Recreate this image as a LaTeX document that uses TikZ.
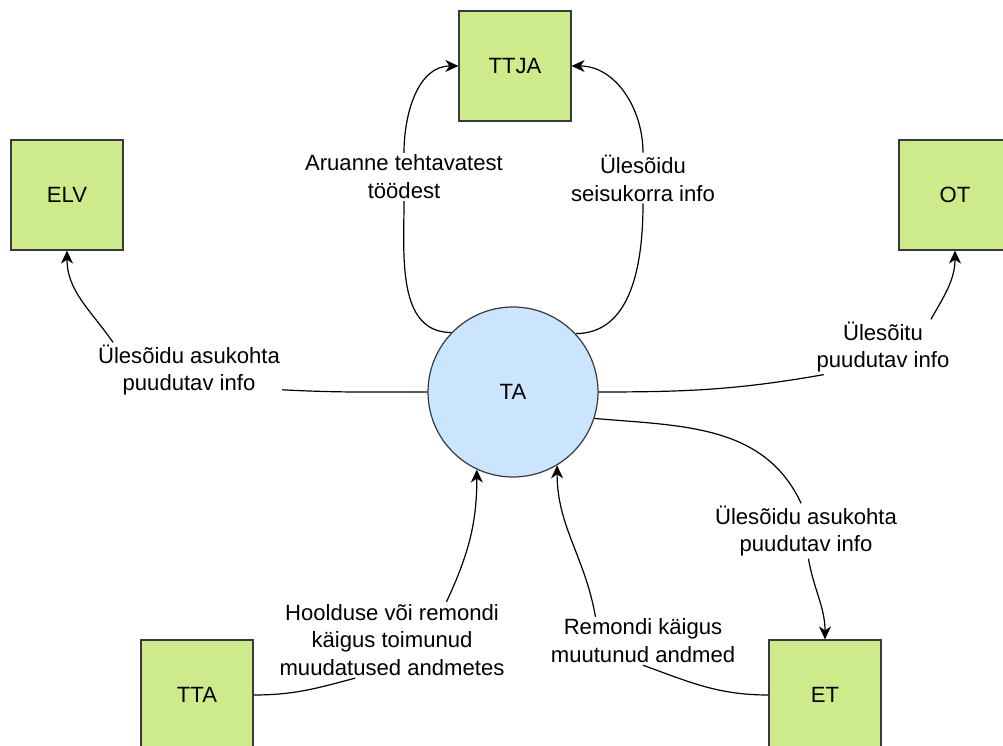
\documentclass[tikz,border=0pt]{standalone}
\usepackage{fontspec}
\setmainfont{Liberation Sans}
\usetikzlibrary{arrows.meta}
\definecolor{boxgreen}{HTML}{CDEB8B}
\definecolor{procblue}{HTML}{CCE5FF}
\definecolor{rimgray}{HTML}{36393D}

\begin{document}
\begin{tikzpicture}[x=1pt,y=1pt,
  every node/.style={font=\fontsize{22.1}{27.8}\selectfont},
  ext/.style={draw=rimgray,fill=boxgreen,line width=1.2pt,minimum width=112pt,minimum height=110pt,inner sep=0pt},
  proc/.style={circle,draw=rimgray,fill=procblue,line width=1.2pt,minimum size=170pt,inner sep=0pt},
  lbl/.style={fill=white,inner sep=2pt,align=center},
  flow/.style={line width=1.2pt,-{Stealth[length=13pt,width=12pt,inset=4pt]}}]
\useasboundingbox (0,0) rectangle (1003,746);
\clip (0,0) rectangle (1003,746);
\node[ext] (ttja) at (515,680) {TTJA};
\node[ext] (elv) at (67,551) {ELV};
\node[ext] (ot) at (955,551) {OT};
\node[ext] (tta) at (197,51) {TTA};
\node[ext] (et) at (825,51) {ET};
\node[proc] (ta) at (513,354) {TA};
\node[lbl] (aruanne) at (404,569) {Aruanne tehtavatest\\töödest};
\node[lbl] (seisund) at (643,568) {Ülesõidu\\seisukorra info};
\node[lbl] (asukohtaL) at (189,376) {Ülesõidu asukohta\\puudutav info};
\node[lbl] (ylesoit) at (883,399) {Ülesõitu\\puudutav info};
\node[lbl] (asukohtaR) at (806,215) {Ülesõidu asukohta\\puudutav info};
\node[lbl] (remont) at (643,105) {Remondi käigus\\muutunud andmed};
\node[lbl] (hooldus) at (392,106) {Hoolduse või remondi\\käigus toimunud\\muudatused andmetes};
\draw[flow] (ta.136) to[out=180,in=-90] (aruanne.south) (aruanne.north) to[out=90,in=180] (ttja.west);
\draw[flow] (ta.43) to[out=0,in=-90] (seisund.south) (seisund.north) to[out=90,in=0] (ttja.east);
\draw[flow] (ta.west) to[out=180,in=-3] (asukohtaL.-12) (asukohtaL.160) to[out=125,in=-90] (elv.south);
\draw[flow] (ta.east) to[out=0,in=190] (ylesoit.205) (ylesoit.30) to[out=60,in=-90] (ot.south);
\draw[flow] (ta.-18) to[out=-5,in=115] (asukohtaR.100) (asukohtaR.-85) to[out=-80,in=90] (et.north);
\draw[flow] (et.west) to[out=180,in=-20] (remont.south) (remont.153) to[out=100,in=-90] (ta.-59);
\draw[flow] (tta.east) to[out=0,in=195] (hooldus.-134) (hooldus.35) to[out=65,in=-90] (ta.-115);
\end{tikzpicture}
\end{document}
